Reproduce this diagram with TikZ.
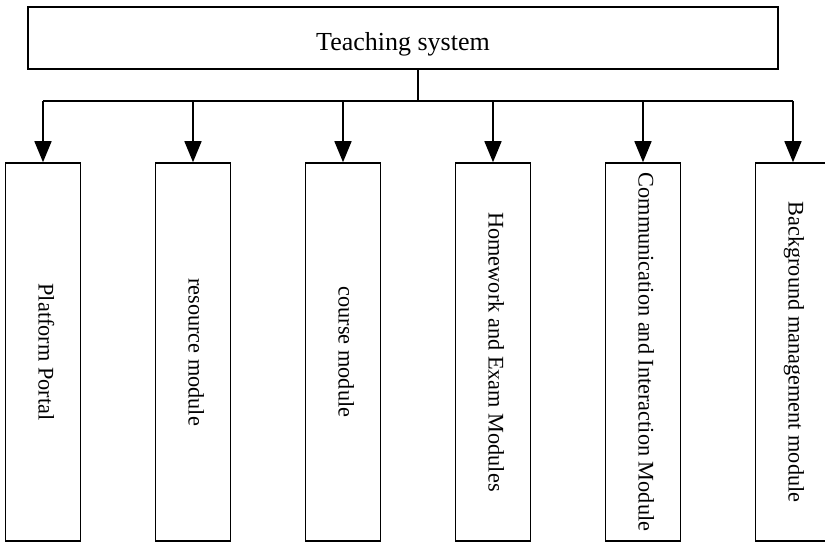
\documentclass[tikz,border=0pt]{standalone}
\usepackage{fontspec}
\setmainfont{Liberation Serif}
\usetikzlibrary{arrows.meta,calc}

\tikzset{
  sysbox/.style={draw,minimum width=750pt,minimum height=62pt,text height=24pt,text depth=0pt,
    font=\fontsize{26}{30}\selectfont},
  modbox/.style={draw,rotate=-90,minimum width=378pt,minimum height=75pt,text height=15pt,text depth=6pt,
    font=\fontsize{22.3}{26}\selectfont},
  down/.style={-{Triangle[length=21pt,width=17pt]}}
}

\begin{document}
\begin{tikzpicture}[x=1pt,y=1pt,line width=1.6pt]
	\useasboundingbox (0,0) rectangle (825,-542);

	% top level
	\node[sysbox] (sys) at (403,-38) {Teaching system};

	% the six modules (rotated, so .west is the top side)
	\foreach \name/\txt [count=\k] in {portal/Platform Portal,resource/resource module,course/course module,homework/Homework and Exam Modules,interact/Communication and Interaction Module,backend/Background management module}{
		\node[modbox] (\name) at ({43+150*(\k-1)},-352) {\txt};
	}

	% stem and bar
	\coordinate (stem) at ($(sys.south)+(15,0)$);
	\coordinate (bar) at ($(stem)+(0,-31)$);
	\draw (stem) -- (bar);
	\draw (portal.west |- bar) -- (backend.west |- bar);

	% arrows down to the modules
	\foreach \name in {portal,resource,course,homework,interact,backend}{
		\draw[down] (\name.west |- bar) -- (\name.west);
	}
\end{tikzpicture}
\end{document}
